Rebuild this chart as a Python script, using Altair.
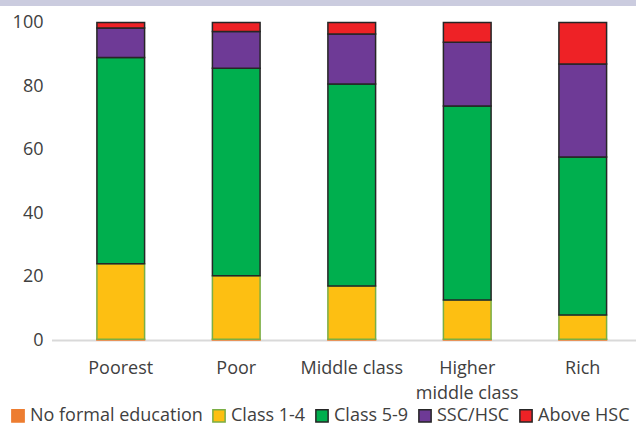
import altair as alt
import pandas as pd

categories = ["Poorest", "Poor", "Middle class", "Higher middle class", "Rich"]
levels = ["No formal education", "Class 1-4", "Class 5-9", "SSC/HSC", "Above HSC"]

no_formal = [0.2, 0.2, 0.2, 0.2, 0.2]
class_1_4 = [23.8, 20.0, 16.8, 12.4, 7.7]
class_5_9 = [65.0, 65.4, 63.6, 61.1, 49.7]
ssc_hsc = [9.3, 11.6, 15.8, 20.1, 29.3]
above_hsc = [1.7, 2.8, 3.6, 6.2, 13.1]

fills = ["#ED7D31", "#FDBF12", "#00AF4E", "#6E3A96", "#EE2226"]
strokes = ["#ED7D31", "#7AAE45", "#262626", "#262626", "#262626"]

series = [no_formal, class_1_4, class_5_9, ssc_hsc, above_hsc]
rows = []
for li, (lvl, vals) in enumerate(zip(levels, series)):
    for c, v in zip(categories, vals):
        rows.append({"group": c, "level": lvl, "idx": li, "value": v})
df = pd.DataFrame(rows)

FONT = "Open Sans"
W, H = 584, 317.5

x_enc = alt.X(
    "group:N",
    sort=categories,
    scale=alt.Scale(range=[11, 588.5], paddingInner=0.587, paddingOuter=0.2935),
    axis=alt.Axis(
        title=None, domain=False, ticks=False, labelAngle=0,
        labelFont=FONT, labelFontSize=18, labelColor="#404040",
        labelPadding=19, labelLineHeight=25,
        labelExpr="datum.label == 'Higher middle class' ? ['Higher', 'middle class'] : datum.label",
    ),
)

legend_props = dict(
    title=None, orient="none", legendX=-43, legendY=384,
    direction="horizontal", columns=5, symbolType="square",
    symbolSize=150, symbolStrokeWidth=1.5, labelFont=FONT,
    labelFontSize=18, labelColor="#404040", labelLimit=300,
    labelOffset=3, columnPadding=6, padding=0,
)

bars = alt.Chart(df).mark_bar(strokeWidth=1.5).encode(
    x=x_enc,
    y=alt.Y(
        "value:Q", stack="zero",
        scale=alt.Scale(domain=[0, 100], nice=False),
        axis=alt.Axis(
            title=None, domain=False, ticks=False, grid=False,
            values=[0, 20, 40, 60, 80, 100],
            labelFont=FONT, labelFontSize=18, labelColor="#404040", labelPadding=9,
        ),
    ),
    fill=alt.Fill(
        "level:N", sort=levels,
        scale=alt.Scale(domain=levels, range=fills),
        legend=alt.Legend(**legend_props),
    ),
    stroke=alt.Stroke(
        "level:N", sort=levels,
        scale=alt.Scale(domain=levels, range=strokes),
        legend=alt.Legend(**legend_props),
    ),
    order=alt.Order("idx:Q", sort="ascending"),
)

baseline = alt.Chart(pd.DataFrame({"v": [0]})).mark_rule(color="#D9D9D9", strokeWidth=2).encode(
    x=alt.value(0), x2=alt.value(W), y=alt.value(H + 0.5)
)

band = alt.Chart(pd.DataFrame({"v": [0]})).mark_rect(color="#CBCCDF", clip=False).encode(
    x=alt.value(-52), x2=alt.value(W + 10), y=alt.value(-22.5), y2=alt.value(-16.5)
)

chart = alt.layer(band, baseline, bars).properties(
    width=W, height=H,
    autosize=alt.AutoSizeParams(type="none"),
    padding={"left": 52, "top": 22.5, "right": 0, "bottom": 87},
    background="white",
).configure_view(stroke=None)

chart.save("out.html", embed_options={"renderer": "svg", "actions": False})
